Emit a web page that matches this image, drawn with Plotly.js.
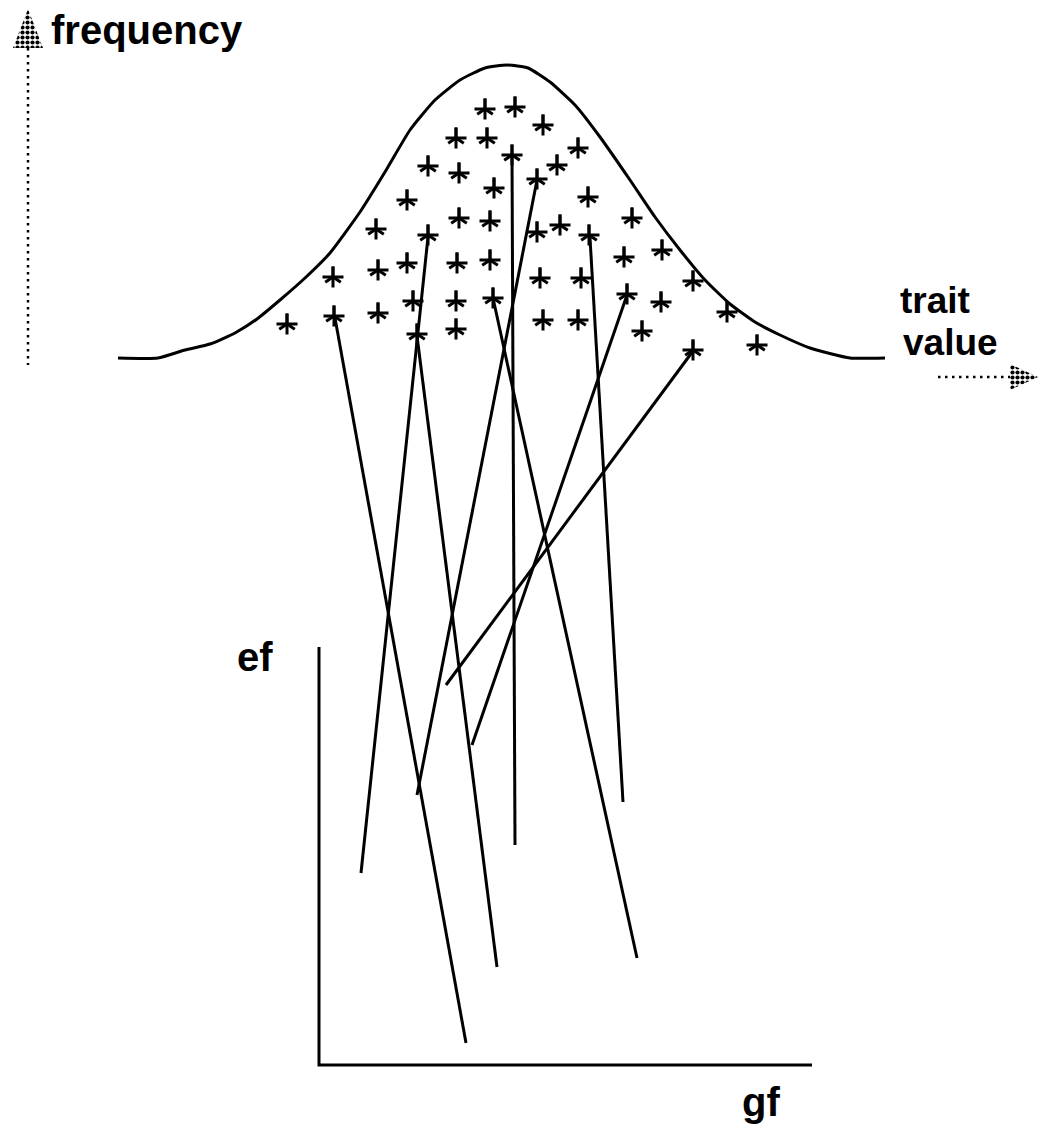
<!DOCTYPE html>
<html><head><meta charset="utf-8">
<script src="https://cdn.plot.ly/plotly-3.0.1.min.js"></script>
<style>html,body{margin:0;padding:0;background:#fff}#chart{width:1044px;height:1131px}</style>
</head><body><div id="chart"></div>
<script>
// frequency curve (trait distribution)
const curveX = [118,158,185,210,235,257,280,305,330,360,385,410,435,460,485,507,528,550,575,600,630,655,680,705,730,755,780,810,850,885];
const curveY = [358,358,350,344,333,319,300,278,253,212,172,130,100,80,68,65,68,82,105,137,180,217,250,280,304,322,335,348,358,358];

// individuals ("*")
const starX = [485,515,543,456,487,578,512,428,459,557,537,494,407,588,459,490,632,376,428,537,560,589,662,624,490,457,407,378,333,540,581,693,627,661,413,456,493,287,334,378,417,456,543,578,642,727,757,693];
const starY = [109,107,125,138,138,148,155,166,173,165,179,188,200,197,218,221,218,229,235,232,225,235,250,257,260,263,263,270,277,278,278,281,294,302,301,301,298,324,316,313,334,329,320,320,331,312,345,350];

// reaction norms: from individual down to ef/gf space
const branchStartX = [428,417,335,512,537,493,590,627,693];
const branchStartY = [237,336,318,155,180,298,238,295,351];
const branchEndX   = [361,497,466,515,417,637,623,472,446];
const branchEndY   = [873,967,1043,845,795,958,802,745,685];

// ef / gf axes
const efgfAxisX = [319,319,812];
const efgfAxisY = [647,1065,1065];

// frequency / trait value axes (dotted)
const freqAxisX = [28,28];
const freqAxisY = [48,365];
const traitAxisX = [938,1010];
const traitAxisY = [377,377];
const freqHeadX = [28,13,43,28];
const freqHeadY = [9,48,48,9];
const traitHeadX = [1038,1010,1010,1038];
const traitHeadY = [377,364,390,377];

// labels
const labelText = ['frequency','trait','value','ef','gf'];
const labelX = [50,899,902,236,741];
const labelY = [30,300,342,657,1102];
const labelSize = [40,37,37,40,40];

const bx = [], by = [];
for (let i = 0; i < branchStartX.length; i++) {
  bx.push(branchStartX[i], branchEndX[i], null);
  by.push(branchStartY[i], branchEndY[i], null);
}

const blk = '#000';
const traces = [
  {x: curveX, y: curveY, mode: 'lines', line: {color: blk, width: 3, shape: 'spline', smoothing: 0.5}},
  {x: bx, y: by, mode: 'lines', line: {color: blk, width: 3}, connectgaps: false},
  {x: efgfAxisX, y: efgfAxisY, mode: 'lines', line: {color: blk, width: 3}},
  {x: freqAxisX, y: freqAxisY, mode: 'lines', line: {color: blk, width: 2.5, dash: '2.5px,4.5px'}},
  {x: traitAxisX, y: traitAxisY, mode: 'lines', line: {color: blk, width: 2.5, dash: '2.5px,4.5px'}},
  {x: freqHeadX, y: freqHeadY, mode: 'lines', fill: 'toself', line: {width: 0, color: blk},
   fillcolor: 'rgba(0,0,0,0)', fillpattern: {shape: '.', fgcolor: blk, bgcolor: '#fff', size: 5, solidity: 0.55}},
  {x: traitHeadX, y: traitHeadY, mode: 'lines', fill: 'toself', line: {width: 0, color: blk},
   fillcolor: 'rgba(0,0,0,0)', fillpattern: {shape: '.', fgcolor: blk, bgcolor: '#fff', size: 5, solidity: 0.55}},
  {x: starX, y: starY, mode: 'markers', marker: {symbol: 'cross-thin-open', size: 15, color: blk, line: {color: blk, width: 3}}},
  {x: starX, y: starY, mode: 'markers', marker: {symbol: 'y-up-open', size: 13, color: blk, line: {color: blk, width: 3}}}
];

const annotations = labelText.map((t, i) => ({
  text: t, x: labelX[i], y: labelY[i], xref: 'x', yref: 'y',
  xanchor: 'left', yanchor: 'middle', showarrow: false, borderpad: 0,
  font: {family: 'Liberation Sans, Arial, sans-serif', size: labelSize[i], color: blk, weight: 'bold'}
}));

const layout = {
  width: 1044, height: 1131,
  margin: {l: 0, r: 0, t: 0, b: 0},
  paper_bgcolor: '#fff', plot_bgcolor: '#fff',
  showlegend: false,
  xaxis: {range: [0, 1044], visible: false, fixedrange: true},
  yaxis: {range: [1131, 0], visible: false, fixedrange: true},
  annotations: annotations
};

Plotly.newPlot('chart', traces, layout, {staticPlot: true, displayModeBar: false});
</script>
</body></html>
